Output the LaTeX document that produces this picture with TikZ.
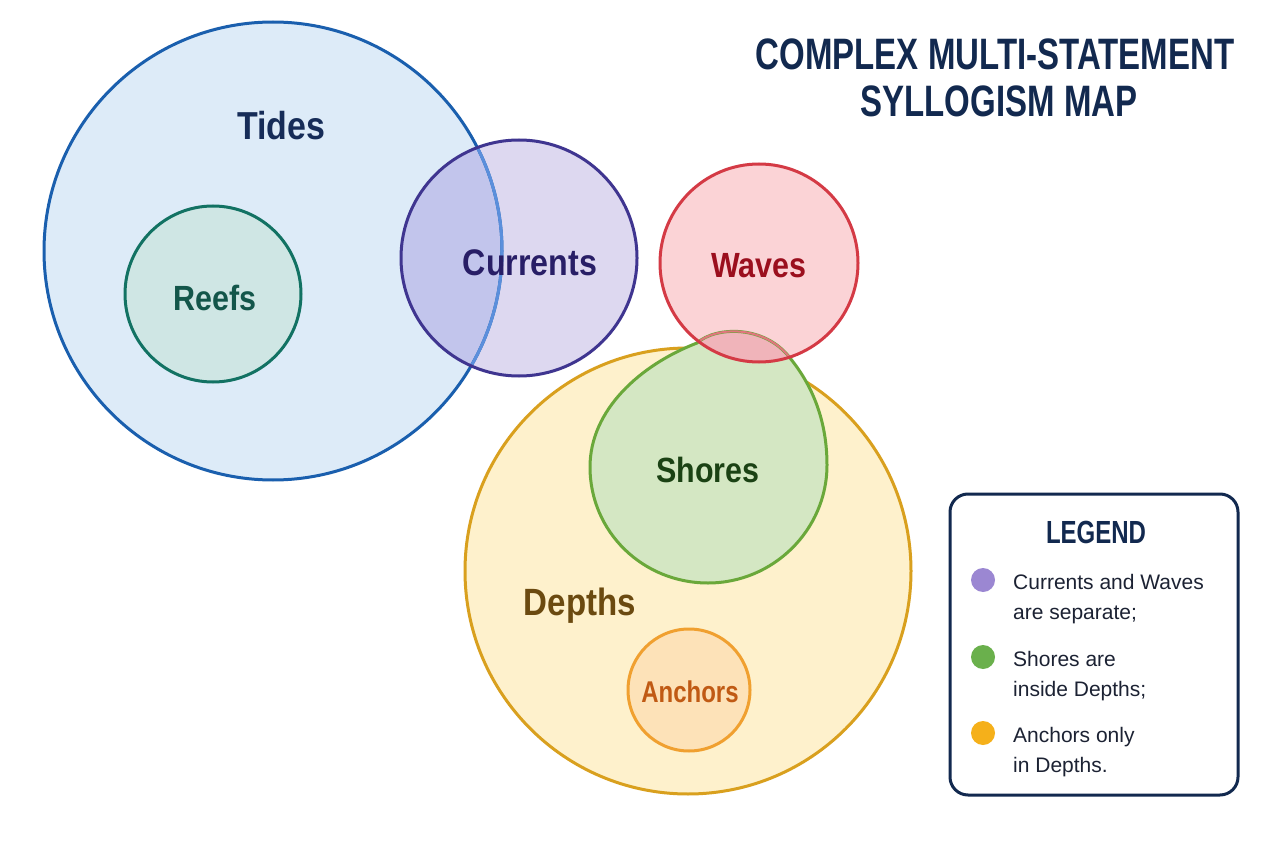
\documentclass[tikz,border=0pt]{standalone}
\usepackage{fontspec}
\setmainfont{Liberation Sans}
\newfontfamily\titlefont[FakeStretch=0.75]{Liberation Sans}
\newfontfamily\lblfont[FakeStretch=0.87]{Liberation Sans}
\newfontfamily\anchfont[FakeStretch=0.8]{Liberation Sans}
\definecolor{navy}{HTML}{12294F}
\definecolor{tidesD}{HTML}{1A5FAE}
\definecolor{tidesL}{HTML}{5B8FDC}
\definecolor{tidesF}{HTML}{DDEBF8}
\definecolor{tidesT}{HTML}{162C58}
\definecolor{reefD}{HTML}{127263}
\definecolor{reefF}{HTML}{CFE6E4}
\definecolor{reefT}{HTML}{13564A}
\definecolor{curD}{HTML}{3F3590}
\definecolor{curF}{HTML}{DDD8F0}
\definecolor{curX}{HTML}{C2C5EC}
\definecolor{curT}{HTML}{281E66}
\definecolor{wavD}{HTML}{D43A45}
\definecolor{wavF}{HTML}{FBD3D6}
\definecolor{wavX}{HTML}{F0B4BA}
\definecolor{wavT}{HTML}{9B0F1E}
\definecolor{depD}{HTML}{D9A01E}
\definecolor{depF}{HTML}{FEF1CC}
\definecolor{depT}{HTML}{6B4A10}
\definecolor{shoD}{HTML}{6AA83A}
\definecolor{shoF}{HTML}{D4E7C3}
\definecolor{shoT}{HTML}{1B4214}
\definecolor{ancD}{HTML}{F0A030}
\definecolor{ancF}{HTML}{FDE2B8}
\definecolor{ancT}{HTML}{C05A14}
\definecolor{legT}{HTML}{1C2233}
\definecolor{dotP}{HTML}{9B87D2}
\definecolor{dotG}{HTML}{6AB04C}
\definecolor{dotO}{HTML}{F5B01A}
\tikzset{
  ring/.style={line width=3pt},
  lbl/.style={inner sep=0pt, anchor=base, font=\lblfont\bfseries\fontsize{#1}{#1}\selectfont},
  legtext/.style={inner sep=0pt, anchor=base west, align=left, text=legT,
    font=\fontsize{21}{30}\selectfont},
  legdot/.style={circle, inner sep=0pt, minimum size=24pt}
}
\begin{document}
\begin{tikzpicture}[x=1pt,y=-1pt]
\useasboundingbox (0,0) rectangle (1280,853);
\fill[white] (0,0) rectangle (1280,853);

% Tides and Currents
\fill[tidesF] (273,251) circle (229pt);
\fill[curF] (519,258) circle (118pt);
\begin{scope}
  \clip (273,251) circle (229pt);
  \fill[curX] (519,258) circle (118pt);
\end{scope}
\draw[ring, tidesD] (273,251) circle (229pt);
\begin{scope}
  \clip (519,258) circle (117pt);
  \draw[ring, tidesL] (273,251) circle (229pt);
\end{scope}
\draw[ring, curD] (519,258) circle (118pt);

% Reefs
\draw[ring, reefD, fill=reefF] (213,294) circle (88pt);

% Depths and Anchors
\draw[ring, depD, fill=depF] (688,571) circle (223pt);
\draw[ring, ancD, fill=ancF] (689,690) circle (61pt);

% Shores and Waves
\def\shorespath{(697,343) .. controls (640,365) and (590,410) .. (590,467)
  .. controls (590,532) and (643,583) .. (708,583)
  .. controls (773,583) and (827,530) .. (827,465)
  .. controls (827,420) and (812,385) .. (790,358)
  .. controls (765,325) and (716,326) .. (697,343) -- cycle}
\fill[shoF] \shorespath;
\fill[wavF] (759,263) circle (99pt);
\begin{scope}
  \clip (759,263) circle (99pt);
  \fill[wavX] \shorespath;
\end{scope}
\draw[ring, shoD] \shorespath;
\begin{scope}
  \clip (759,263) circle (98pt);
  \draw[line width=2pt, wavD!70!white] \shorespath;
\end{scope}
\draw[ring, wavD] (759,263) circle (99pt);

% Labels
\node[lbl=39, text=tidesT] (tidesLbl) at (281,140) {Tides};
\node[lbl=35, text=reefT] (reefsLbl) at (215,310) {Reefs};
\node[lbl=37, text=curT] (currentsLbl) at (530,276) {Currents};
\node[lbl=35, text=wavT] (wavesLbl) at (759,277) {Waves};
\node[lbl=35, text=shoT] (shoresLbl) at (708,482) {Shores};
\node[lbl=38, text=depT] (depthsLbl) at (580,615) {Depths};
\node[inner sep=0pt, anchor=base, text=ancT, font=\anchfont\bfseries\fontsize{30}{30}\selectfont] (anchorsLbl) at (690,702) {Anchors};

% Title
\node[inner sep=0pt, anchor=base, text=navy, font=\titlefont\bfseries\fontsize{44}{44}\selectfont] (title1) at (995,70) {COMPLEX MULTI-STATEMENT};
\node[inner sep=0pt, anchor=base, text=navy, font=\titlefont\bfseries\fontsize{44}{44}\selectfont] (title2) at (999,117) {SYLLOGISM MAP};

% Legend
\draw[line width=3pt, navy, fill=white, rounded corners=18pt] (950,494) rectangle (1238,795);
\node[inner sep=0pt, anchor=base, text=navy, font=\titlefont\bfseries\fontsize{32}{32}\selectfont] (legendTitle) at (1096,543) {LEGEND};
\node[legdot, fill=dotP] (dot1) at (983,580) {};
\node[legdot, fill=dotG] (dot2) at (983,657) {};
\node[legdot, fill=dotO] (dot3) at (983,733) {};
\node[legtext] (leg1) at (1013,619) {Currents and Waves\\are separate;};
\node[legtext] (leg2) at (1013,696) {Shores are\\inside Depths;};
\node[legtext] (leg3) at (1013,772) {Anchors only\\in Depths.};
\end{tikzpicture}
\end{document}
